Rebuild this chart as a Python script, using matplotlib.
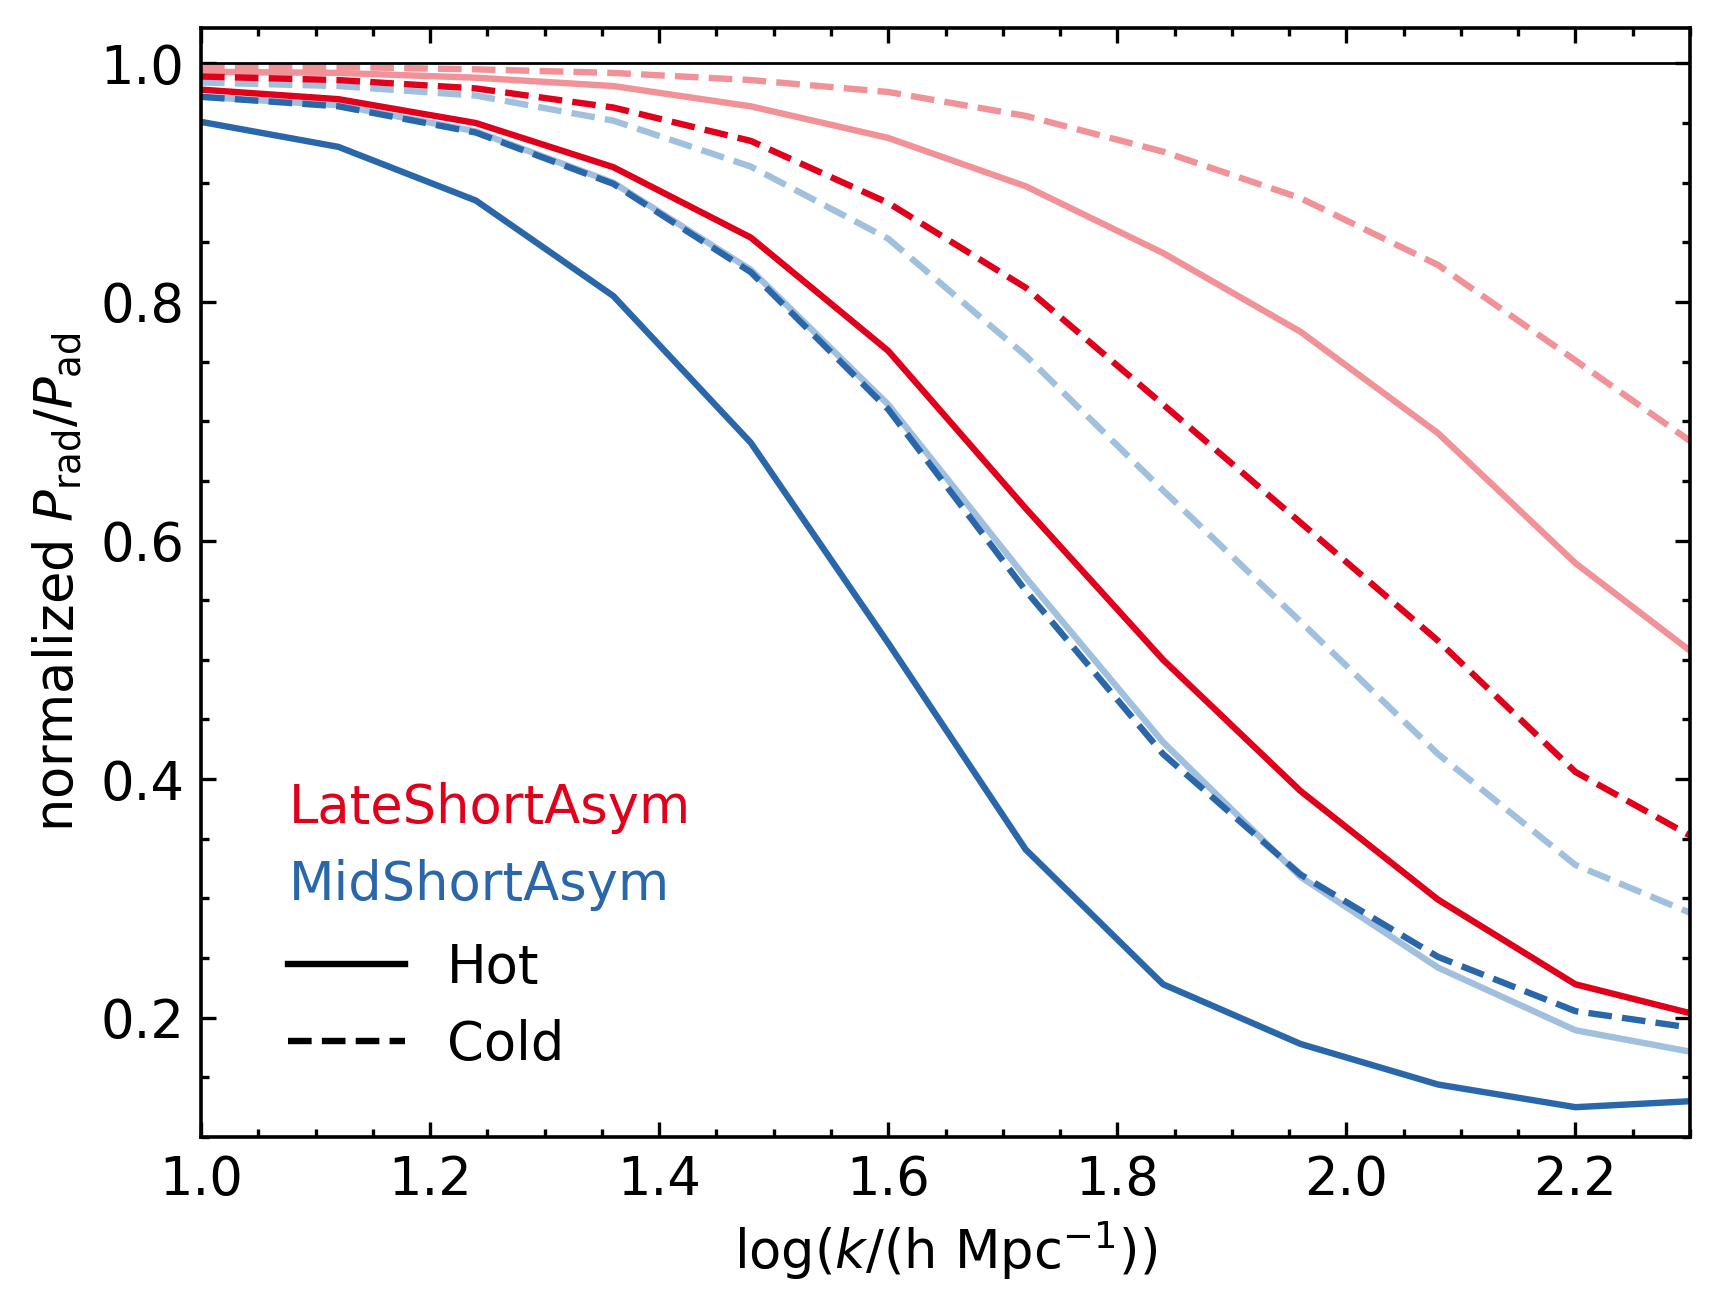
import numpy as np
import matplotlib
matplotlib.use("Agg")
import matplotlib.pyplot as plt
from matplotlib.ticker import MultipleLocator
from matplotlib.lines import Line2D

# log(k / (h Mpc^-1)) sample points
log_k = [1.0, 1.12, 1.24, 1.36, 1.48, 1.6, 1.72, 1.84, 1.96, 2.08, 2.2, 2.32]

# LateShortAsym (red)
late_hot = [0.978, 0.970, 0.950, 0.913, 0.854, 0.759, 0.627, 0.500, 0.390, 0.299, 0.228, 0.199]
late_cold = [0.989, 0.986, 0.979, 0.963, 0.935, 0.883, 0.812, 0.714, 0.615, 0.516, 0.406, 0.342]
late_hot_pale = [0.993, 0.992, 0.988, 0.981, 0.964, 0.9375, 0.897, 0.841, 0.775, 0.690, 0.581, 0.493]
late_cold_pale = [0.997, 0.997, 0.995, 0.992, 0.986, 0.976, 0.956, 0.926, 0.887, 0.831, 0.751, 0.670]

# MidShortAsym (blue)
mid_hot = [0.951, 0.930, 0.885, 0.805, 0.682, 0.514, 0.341, 0.228, 0.178, 0.144, 0.125, 0.131]
mid_cold = [0.972, 0.964, 0.942, 0.899, 0.825, 0.710, 0.558, 0.421, 0.320, 0.251, 0.2055, 0.189]
mid_hot_pale = [0.972, 0.965, 0.943, 0.900, 0.827, 0.714, 0.569, 0.431, 0.318, 0.242, 0.1895, 0.168]
mid_cold_pale = [0.984, 0.981, 0.973, 0.952, 0.9135, 0.853, 0.755, 0.642, 0.532, 0.421, 0.328, 0.280]

RED = "#e0001b"
PINK = "#f09298"
BLUE = "#2a67aa"
LBLUE = "#a0c0de"

fs = 19
lw = 2.3
plt.rcParams["font.size"] = fs
plt.rcParams["mathtext.fontset"] = "dejavusans"

fig = plt.figure(figsize=(8.59, 6.57), dpi=200)
ax = fig.add_axes([0.117, 0.1347, 0.8667, 0.8443])

# pale curves underneath
ax.plot(log_k, late_cold_pale, color=PINK, lw=lw, ls="--")
ax.plot(log_k, late_hot_pale, color=PINK, lw=lw, ls="-")
ax.plot(log_k, mid_cold_pale, color=LBLUE, lw=lw, ls="--")
ax.plot(log_k, mid_hot_pale, color=LBLUE, lw=lw, ls="-")

ax.plot(log_k, late_cold, color=RED, lw=lw, ls="--")
ax.plot(log_k, late_hot, color=RED, lw=lw, ls="-")
ax.plot(log_k, mid_cold, color=BLUE, lw=lw, ls="--")
ax.plot(log_k, mid_hot, color=BLUE, lw=lw, ls="-")

ax.axhline(1.0, color="k", lw=1.0, zorder=5)

ax.set_xlim(1.0, 2.3)
ax.set_ylim(0.1, 1.03)
ax.xaxis.set_major_locator(MultipleLocator(0.2))
ax.xaxis.set_minor_locator(MultipleLocator(0.05))
ax.yaxis.set_major_locator(MultipleLocator(0.2))
ax.yaxis.set_minor_locator(MultipleLocator(0.05))
ax.tick_params(which="both", direction="in", top=True, right=True, width=1.2)
ax.tick_params(which="major", length=5.5, pad=6)
ax.tick_params(which="minor", length=3)
for sp in ax.spines.values():
    sp.set_linewidth(1.3)

ax.set_xlabel(r"log($k$/(h Mpc$^{-1}$))", labelpad=5)
ax.set_ylabel(r"normalized $P_{\rm rad}/P_{\rm ad}$", labelpad=6)

# model names as coloured text, line style key as legend
ax.text(0.0587, 0.297, "LateShortAsym", color=RED, transform=ax.transAxes,
        ha="left", va="center")
ax.text(0.0587, 0.227, "MidShortAsym", color=BLUE, transform=ax.transAxes,
        ha="left", va="center")
handles = [Line2D([], [], color="k", lw=lw, ls="-"),
           Line2D([], [], color="k", lw=lw, ls="--")]
ax.legend(handles, ["Hot", "Cold"], loc="lower left", frameon=False,
          bbox_to_anchor=(0.0587, 0.06), borderaxespad=0, borderpad=0,
          labelspacing=0.47, handlelength=2.2)

fig.savefig("out.png", dpi=200)
